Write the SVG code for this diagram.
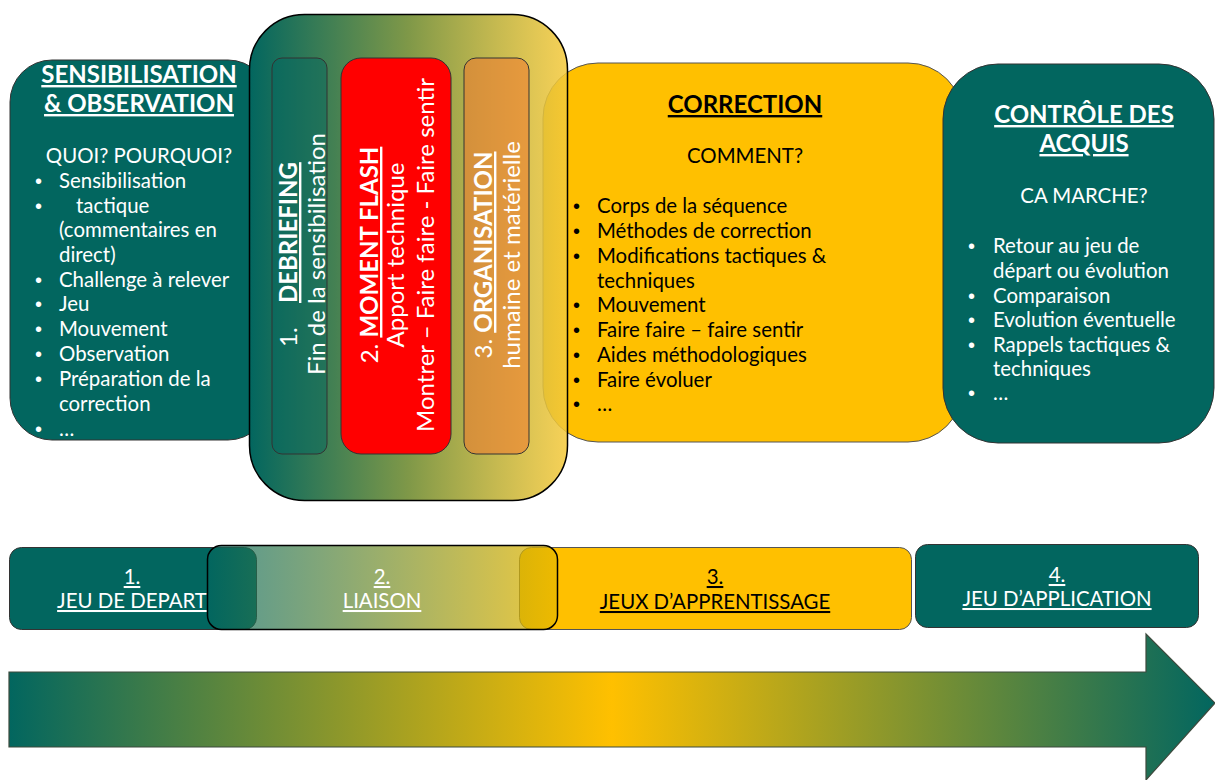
<svg xmlns="http://www.w3.org/2000/svg" width="1215" height="780" viewBox="0 0 1215 780">
<defs>
<linearGradient id="gMid" x1="0" y1="0" x2="1" y2="0">
<stop offset="0" stop-color="#02665F"/>
<stop offset="0.5" stop-color="#7f9848"/>
<stop offset="1" stop-color="#f5c93a" stop-opacity="0.85"/>
</linearGradient>
<linearGradient id="gLiaison" x1="0" y1="0" x2="1" y2="0">
<stop offset="0" stop-color="#02665F" stop-opacity="0.68"/>
<stop offset="1" stop-color="#e8b800" stop-opacity="0.75"/>
</linearGradient>
<linearGradient id="gArrow" x1="0" y1="0" x2="1" y2="0">
<stop offset="0" stop-color="#02665F"/>
<stop offset="0.5" stop-color="#FFC000"/>
<stop offset="1" stop-color="#02665F"/>
</linearGradient>
<style>
text{font-family:Lato,"Liberation Sans",sans-serif;}
.w{fill:#ffffff;}
.k{fill:#000000;}
.h{font-size:24px;font-weight:bold;text-decoration:underline;}
.t{font-size:20.4px;}
.v{font-size:24px;}
.m{text-anchor:middle;}
.b{font-weight:bold;text-decoration:underline;}
.u{text-decoration:underline;}
.bl{font-family:"Liberation Sans",sans-serif;font-size:20px;}
.teal{fill:#02665F;stroke:#333;stroke-width:1;}
.gold{fill:#FFC000;stroke:#555;stroke-width:1;}
</style>
</defs>

<g id="sensibilisation">
<rect x="10" y="60" width="260" height="380" rx="42" class="teal"/>
<text class="w h m" x="139" y="83">SENSIBILISATION</text>
<text class="w h m" x="139" y="112">&amp; OBSERVATION</text>
<text class="w t m" x="139" y="163">QUOI? POURQUOI?</text>
<g class="w t">
<text class="bl" x="35" y="188">•</text><text x="59" y="188">Sensibilisation</text>
<text class="bl" x="35" y="213">•</text><text x="76" y="213">tactique</text>
<text x="59" y="237">(commentaires en</text>
<text x="59" y="262">direct)</text>
<text class="bl" x="35" y="287">•</text><text x="59" y="287">Challenge à relever</text>
<text class="bl" x="35" y="311">•</text><text x="59" y="311">Jeu</text>
<text class="bl" x="35" y="336">•</text><text x="59" y="336">Mouvement</text>
<text class="bl" x="35" y="361">•</text><text x="59" y="361">Observation</text>
<text class="bl" x="35" y="386">•</text><text x="59" y="386">Préparation de la</text>
<text x="59" y="411">correction</text>
<text class="bl" x="35" y="436">•</text><text x="59" y="436">…</text>
</g>
</g>

<g id="correction">
<rect x="543" y="63" width="420" height="379" rx="55" class="gold"/>
<text class="k h m" x="745" y="113">CORRECTION</text>
<text class="k t m" x="745" y="163">COMMENT?</text>
<g class="k t">
<text class="bl" x="573" y="213">•</text><text x="597" y="213">Corps de la séquence</text>
<text class="bl" x="573" y="238">•</text><text x="597" y="238">Méthodes de correction</text>
<text class="bl" x="573" y="263">•</text><text x="597" y="263">Modifications tactiques &amp;</text>
<text x="597" y="288">techniques</text>
<text class="bl" x="573" y="312">•</text><text x="597" y="312">Mouvement</text>
<text class="bl" x="573" y="337">•</text><text x="597" y="337">Faire faire – faire sentir</text>
<text class="bl" x="573" y="362">•</text><text x="597" y="362">Aides méthodologiques</text>
<text class="bl" x="573" y="387">•</text><text x="597" y="387">Faire évoluer</text>
<text class="bl" x="573" y="411">•</text><text x="597" y="411">…</text>
</g>
</g>

<g id="liaison-block">
<rect x="249.5" y="14.5" width="318" height="486" rx="55" fill="url(#gMid)" stroke="#000" stroke-width="1.5"/>
<g id="debriefing">
<rect x="272" y="58" width="55" height="396" rx="10" fill="#02665F" fill-opacity="0.45" stroke="#333" stroke-width="1"/>
<text class="w v" transform="translate(297,255) rotate(-90)"><tspan x="-92">1.</tspan><tspan x="-48" class="b">DEBRIEFING</tspan></text>
<text class="w v m" transform="translate(325,254) rotate(-90)">Fin de la sensibilisation</text>
</g>
<g id="moment-flash">
<rect x="341" y="58" width="110" height="396" rx="20" fill="#FF0000" stroke="#333" stroke-width="1"/>
<text class="w v m" transform="translate(378,255) rotate(-90)">2. <tspan class="b">MOMENT FLASH</tspan></text>
<text class="w v m" transform="translate(404,255) rotate(-90)">Apport technique</text>
<text class="w v m" transform="translate(434,255) rotate(-90)">Montrer – Faire faire - Faire sentir</text>
</g>
<g id="organisation">
<rect x="464" y="58" width="65" height="396" rx="12" fill="#ED7D31" fill-opacity="0.6" stroke="#333" stroke-width="1"/>
<text class="w v m" transform="translate(492,255) rotate(-90)">3. <tspan class="b">ORGANISATION</tspan></text>
<text class="w v m" transform="translate(520,255) rotate(-90)">humaine et matérielle</text>
</g>
</g>

<g id="controle">
<rect x="943" y="64" width="271" height="379" rx="55" class="teal"/>
<text class="w h m" x="1084" y="123">CONTRÔLE DES</text>
<text class="w h m" x="1084" y="152">ACQUIS</text>
<text class="w t m" x="1084" y="203">CA MARCHE?</text>
<g class="w t">
<text class="bl" x="968" y="253">•</text><text x="993" y="253">Retour au jeu de</text>
<text x="993" y="278">départ ou évolution</text>
<text class="bl" x="968" y="303">•</text><text x="993" y="303">Comparaison</text>
<text class="bl" x="968" y="327">•</text><text x="993" y="327">Evolution éventuelle</text>
<text class="bl" x="968" y="352">•</text><text x="993" y="352">Rappels tactiques &amp;</text>
<text x="993" y="376">techniques</text>
<text class="bl" x="968" y="400">•</text><text x="993" y="400">…</text>
</g>
</g>

<g id="jeu-depart">
<rect x="9.5" y="547.5" width="247" height="82" rx="12" class="teal"/>
<text class="w t m u" x="132" y="584">1.</text>
<text class="w t m u" x="132" y="608">JEU DE DEPART</text>
</g>
<g id="jeux-apprentissage">
<rect x="519.5" y="547.5" width="392" height="82" rx="12" class="gold"/>
<text class="k t m u" x="715" y="584">3.</text>
<text class="k t m u" x="715" y="609">JEUX D’APPRENTISSAGE</text>
</g>
<g id="liaison">
<rect x="207.5" y="545.5" width="350" height="84" rx="14" fill="url(#gLiaison)" stroke="#000" stroke-width="1.5"/>
<text class="w t m u" x="382" y="584">2.</text>
<text class="w t m u" x="382" y="608">LIAISON</text>
</g>
<g id="jeu-application">
<rect x="915.5" y="544.5" width="283" height="83" rx="12" class="teal"/>
<text class="w t m u" x="1057" y="582">4.</text>
<text class="w t m u" x="1057" y="606">JEU D’APPLICATION</text>
</g>

<g id="connectors">
<path d="M9,672 L1146,672 L1146,634 L1215,703 L1146,780 L1146,747 L9,747 Z" fill="url(#gArrow)" stroke="#3d4a3d" stroke-width="1.2"/>
</g>
</svg>
